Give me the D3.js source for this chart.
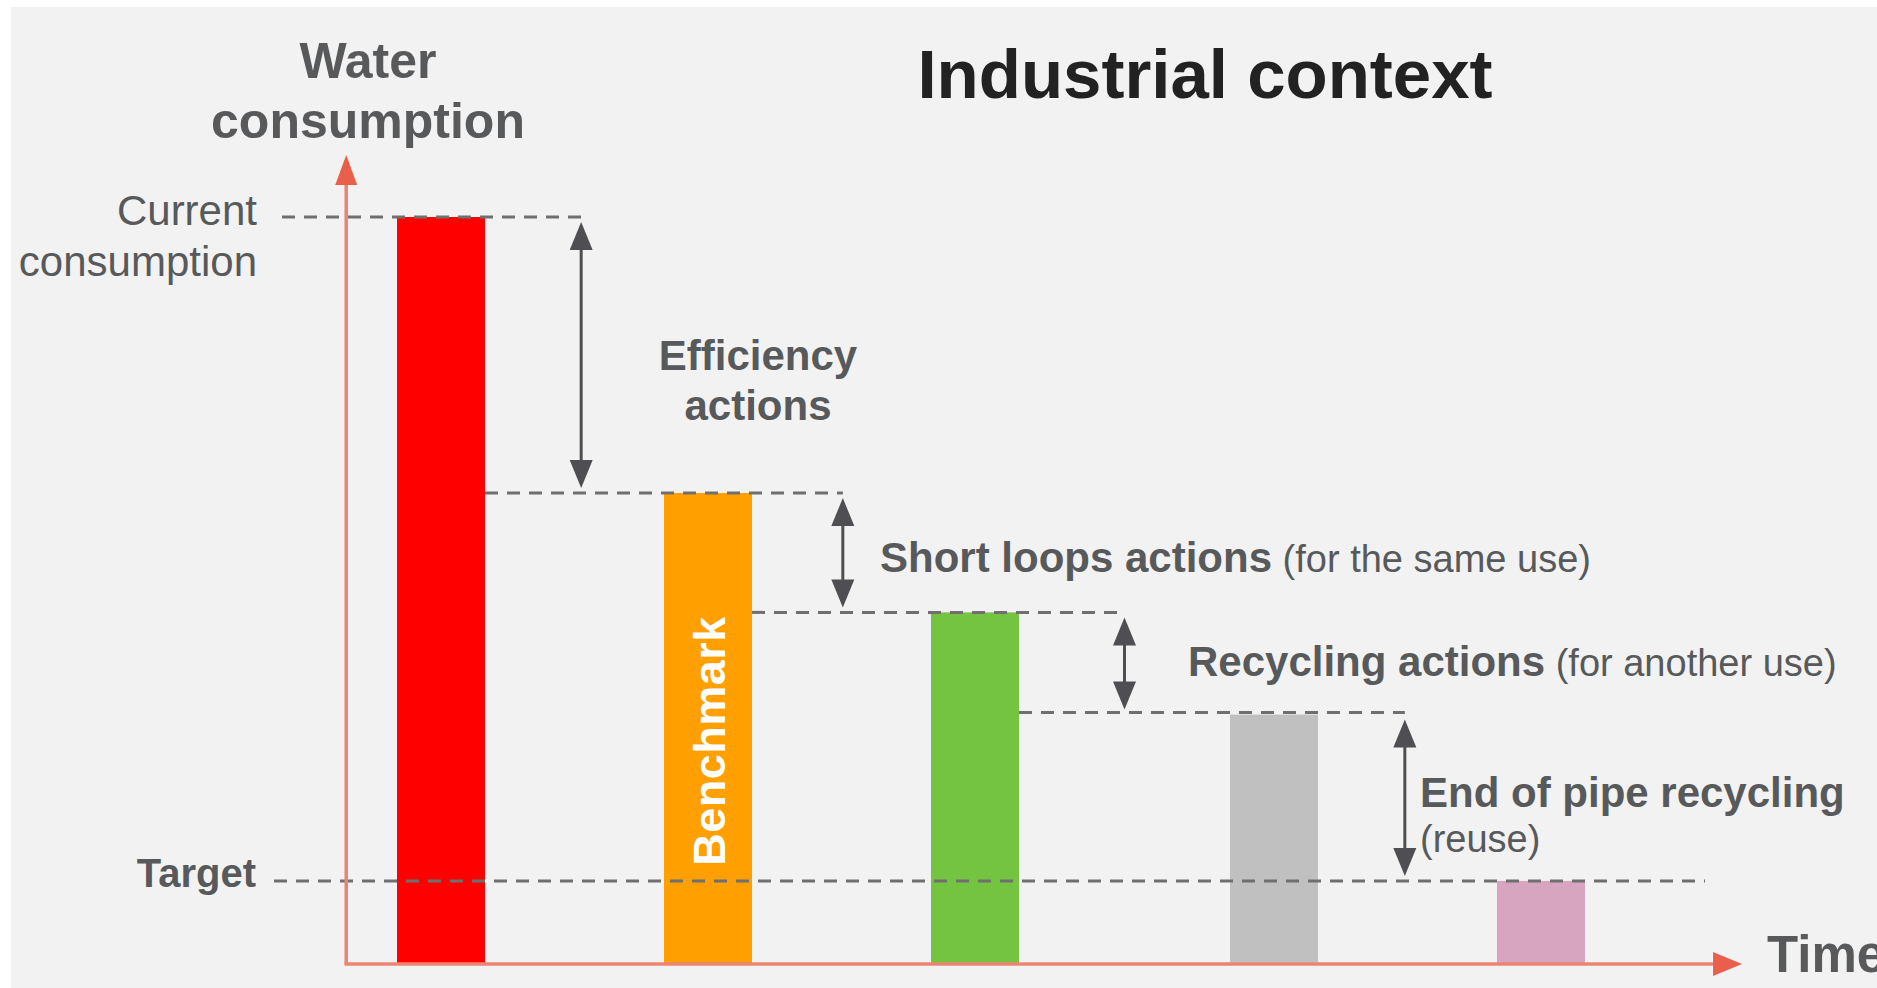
<!DOCTYPE html>
<html>
<head>
<meta charset="utf-8">
<script src="https://cdn.jsdelivr.net/npm/d3@7"></script>
<style>
  body { margin: 0; background: #ffffff; }
  svg { display: block; }
  text { font-family: "Liberation Sans", Arial, sans-serif; }
</style>
</head>
<body>
<div id="chart"></div>
<script>
// Stages along the time axis and their water consumption (current = 100)
var stages = ["Current consumption", "Benchmark", "Short loops", "Recycling", "Target"];
var stageTime = [1, 2, 3, 4.12, 5.12];
var consumption = [100, 63, 47, 33.3, 11];
var barColors = ["#ff0000", "#ffa000", "#74c442", "#c0c0c0", "#d8a5c0"];

// Actions between two stages (arrow stands at actionTime)
var actionTime = [1.525, 2.505, 3.56, 4.61];
var actionBold = ["Efficiency actions", "Short loops actions", "Recycling actions", "End of pipe recycling"];
var actionNote = ["", "(for the same use)", "(for another use)", "(reuse)"];

var width = 1877, height = 988;
var textGray = "#58595b", dashGray = "#6f6f6f", arrowGray = "#4f4f53";
var axisColor = "#ec8472", axisHead = "#e8604c";
var barWidth = 88;

var svg = d3.select("#chart")
  .append("svg")
  .attr("width", width)
  .attr("height", height);

svg.append("rect")
  .attr("x", 11).attr("y", 7)
  .attr("width", width - 11).attr("height", height - 7)
  .attr("fill", "#f2f2f2");

var x = d3.scaleLinear().domain([1, 5.12]).range([441, 1541]);
var y = d3.scaleLinear().domain([0, 100]).range([963, 217]);

var x0 = x(0.645);           // where the value axis stands
var xEnd = x(5.873);         // tip of the time arrow
var yTop = 155;

// Bars
svg.selectAll(".bar")
  .data(consumption)
  .enter()
  .append("rect")
    .attr("class", "bar")
    .attr("x", (d, i) => x(stageTime[i]) - barWidth / 2)
    .attr("y", d => y(d))
    .attr("width", barWidth)
    .attr("height", d => y(0) - y(d))
    .attr("fill", (d, i) => barColors[i]);

// Benchmark label inside the orange bar
svg.append("text")
  .attr("transform", "translate(" + (x(stageTime[1]) + 17) + "," + ((y(consumption[1]) + y(0)) / 2 + 13) + ") rotate(-90)")
  .attr("text-anchor", "middle")
  .attr("font-size", 45)
  .attr("font-weight", "bold")
  .attr("letter-spacing", 0.5)
  .attr("fill", "#ffffff")
  .text(stages[1]);

// Dashed level lines
var dash = "13,9";
function dashLine(x1, x2, yy) {
  svg.append("line")
    .attr("x1", x1).attr("x2", x2)
    .attr("y1", yy).attr("y2", yy)
    .attr("stroke", dashGray)
    .attr("stroke-width", 3)
    .attr("stroke-dasharray", dash);
}
dashLine(282, x(actionTime[0]) + 3, y(consumption[0]));
for (var i = 1; i < 4; i++) {
  dashLine(x(stageTime[i - 1]) + barWidth / 2, x(actionTime[i]), y(consumption[i]) - (i == 3 ? 2 : 0));
}
dashLine(274, 1705, y(consumption[4]));

// Axes
svg.append("line")
  .attr("x1", x0).attr("x2", x0)
  .attr("y1", y(0) + 1).attr("y2", yTop + 25)
  .attr("stroke", axisColor).attr("stroke-width", 3.5);
svg.append("line")
  .attr("x1", x0 - 1.75).attr("x2", xEnd - 25)
  .attr("y1", y(0) + 1).attr("y2", y(0) + 1)
  .attr("stroke", axisColor).attr("stroke-width", 3.5);
svg.append("path")
  .attr("d", "M" + x0 + "," + yTop + "L" + (x0 + 11) + "," + (yTop + 30) + "L" + (x0 - 11) + "," + (yTop + 30) + "Z")
  .attr("fill", axisHead);
svg.append("path")
  .attr("d", "M" + xEnd + "," + (y(0) + 1) + "L" + (xEnd - 29) + "," + (y(0) - 11) + "L" + (xEnd - 29) + "," + (y(0) + 13) + "Z")
  .attr("fill", axisHead);

// Double arrows for each action
var headLen = 28, headHalf = 11.5, gap = 5;
actionTime.forEach(function(t, i) {
  var ax = x(t);
  var yA = y(consumption[i]) + gap, yB = y(consumption[i + 1]) - gap;
  svg.append("line")
    .attr("x1", ax).attr("x2", ax)
    .attr("y1", yA + headLen - 2).attr("y2", yB - headLen + 2)
    .attr("stroke", arrowGray).attr("stroke-width", 3);
  svg.append("path")
    .attr("d", "M" + ax + "," + yA + "L" + (ax + headHalf) + "," + (yA + headLen) + "L" + (ax - headHalf) + "," + (yA + headLen) + "Z")
    .attr("fill", arrowGray);
  svg.append("path")
    .attr("d", "M" + ax + "," + yB + "L" + (ax + headHalf) + "," + (yB - headLen) + "L" + (ax - headHalf) + "," + (yB - headLen) + "Z")
    .attr("fill", arrowGray);
});

// Title and axis titles
svg.append("text")
  .attr("x", 1205).attr("y", 98)
  .attr("text-anchor", "middle")
  .attr("font-size", 69).attr("font-weight", "bold")
  .attr("fill", "#222222")
  .text("Industrial context");

svg.append("text")
  .attr("x", 368).attr("y", 78)
  .attr("text-anchor", "middle")
  .attr("font-size", 50).attr("font-weight", "bold")
  .attr("fill", textGray)
  .selectAll("tspan")
  .data(["Water", "consumption"])
  .enter().append("tspan")
    .attr("x", 368)
    .attr("dy", (d, i) => i ? 60 : 0)
    .text(d => d);

svg.append("text")
  .attr("x", 1767).attr("y", 972)
  .attr("font-size", 51).attr("font-weight", "bold")
  .attr("fill", textGray)
  .text("Time");

// Level labels on the left
svg.append("text")
  .attr("x", 257).attr("y", y(consumption[0]) + 8)
  .attr("text-anchor", "end")
  .attr("font-size", 42)
  .attr("fill", textGray)
  .selectAll("tspan")
  .data(["Current", "consumption"])
  .enter().append("tspan")
    .attr("x", 257)
    .attr("dy", (d, i) => i ? 51 : 0)
    .text(d => d);

svg.append("text")
  .attr("x", 256).attr("y", y(consumption[4]) + 6)
  .attr("text-anchor", "end")
  .attr("font-size", 40).attr("font-weight", "bold")
  .attr("fill", textGray)
  .text(stages[4]);

// Action labels
var eff = svg.append("text")
  .attr("x", 758).attr("y", 370)
  .attr("text-anchor", "middle")
  .attr("font-size", 42).attr("font-weight", "bold")
  .attr("fill", textGray);
actionBold[0].split(" ").forEach(function(w, i) {
  eff.append("tspan").attr("x", 758).attr("dy", i ? 50 : 0).text(w);
});

function inlineLabel(i, lx, ly) {
  var t = svg.append("text")
    .attr("x", lx).attr("y", ly)
    .attr("fill", textGray);
  t.append("tspan").attr("font-size", 42).attr("font-weight", "bold").text(actionBold[i]);
  t.append("tspan").attr("font-size", 38).text(" " + actionNote[i]);
}
inlineLabel(1, 880, 572);
inlineLabel(2, 1188, 676);

var eop = svg.append("text")
  .attr("x", 1420).attr("y", 807)
  .attr("fill", textGray);
eop.append("tspan").attr("font-size", 42).attr("font-weight", "bold").text(actionBold[3]);
eop.append("tspan").attr("x", 1420).attr("dy", 45).attr("font-size", 38).text(actionNote[3]);
</script>
</body>
</html>
